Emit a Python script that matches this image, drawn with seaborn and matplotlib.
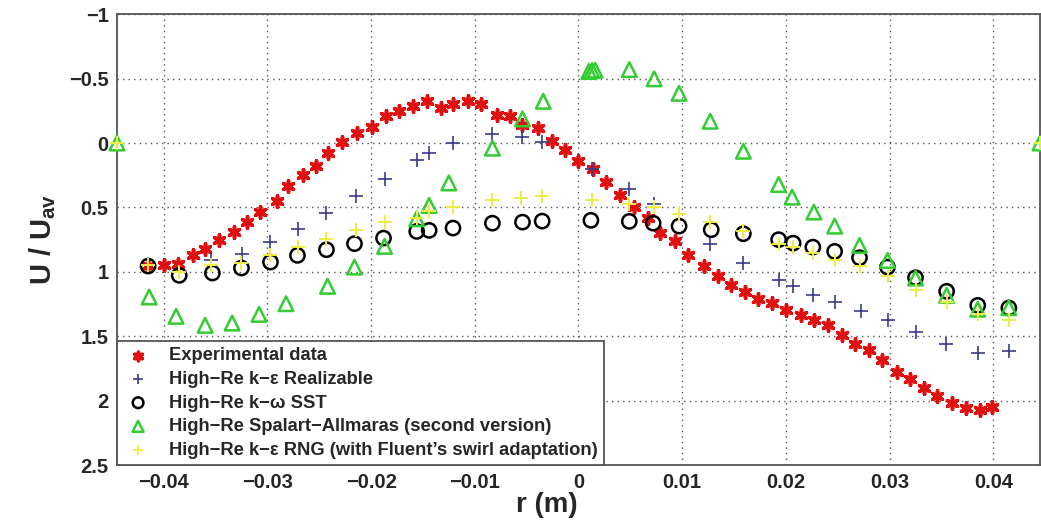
import numpy as np
import pandas as pd
import matplotlib
matplotlib.use("Agg")
import matplotlib.pyplot as plt
import seaborn as sns

# ---------------- data ----------------
exp_r = [-0.0415, -0.0400, -0.0386, -0.0372, -0.0360, -0.0347, -0.0332, -0.0320, -0.0307, -0.0291,
         -0.0280, -0.0266, -0.0253, -0.0242, -0.0228, -0.0214, -0.0199, -0.0186, -0.0173, -0.0160,
         -0.0146, -0.0133, -0.0121, -0.0107, -0.0094, -0.0079, -0.0066, -0.0054, -0.0039, -0.0026,
         -0.0013, 0.0000, 0.0014, 0.0027, 0.0040, 0.0054, 0.0067, 0.0079, 0.0093, 0.0106,
         0.0121, 0.0135, 0.0147, 0.0161, 0.0173, 0.0187, 0.0200, 0.0215, 0.0227, 0.0241,
         0.0254, 0.0267, 0.0280, 0.0293, 0.0307, 0.0320, 0.0333, 0.0346, 0.0360, 0.0374,
         0.0387, 0.0399]
exp_v = [0.955, 0.95, 0.937, 0.872, 0.82, 0.75, 0.69, 0.614, 0.536, 0.453,
         0.337, 0.252, 0.18, 0.076, -0.006, -0.076, -0.122, -0.208, -0.247, -0.29,
         -0.33, -0.273, -0.304, -0.324, -0.304, -0.218, -0.208, -0.143, -0.118, -0.019,
         0.053, 0.141, 0.2, 0.304, 0.4, 0.497, 0.58, 0.70, 0.761, 0.872,
         0.957, 1.035, 1.105, 1.157, 1.21, 1.242, 1.293, 1.337, 1.376, 1.41,
         1.487, 1.557, 1.608, 1.681, 1.78, 1.828, 1.905, 1.965, 2.02, 2.06,
         2.07, 2.05]

rke_r = [-0.0415, -0.0354, -0.0324, -0.0297, -0.0270, -0.0243, -0.0215, -0.0187, -0.0156, -0.0144,
         -0.0121, -0.0083, -0.0054, -0.0035, 0.0013, 0.0049, 0.0073, 0.0127, 0.0159, 0.0193,
         0.0207, 0.0226, 0.0247, 0.0272, 0.0298, 0.0325, 0.0354, 0.0385, 0.0415]
rke_v = [0.95, 0.91, 0.86, 0.77, 0.665, 0.54, 0.415, 0.283, 0.13, 0.079,
         0.0, -0.07, -0.045, -0.006, 0.2, 0.36, 0.477, 0.787, 0.93, 1.066,
         1.112, 1.177, 1.234, 1.304, 1.376, 1.466, 1.557, 1.627, 1.614]

sst_r = [-0.0415, -0.0385, -0.0353, -0.0325, -0.0297, -0.0271, -0.0243, -0.0216, -0.0188, -0.0156,
         -0.0144, -0.0121, -0.0083, -0.0054, -0.0035, 0.0012, 0.0049, 0.0072, 0.0097, 0.0128,
         0.0159, 0.0193, 0.0207, 0.0226, 0.0247, 0.0271, 0.0298, 0.0325, 0.0355, 0.0385, 0.0415]
sst_v = [0.955, 1.027, 1.009, 0.97, 0.924, 0.872, 0.828, 0.781, 0.738, 0.686,
         0.678, 0.66, 0.622, 0.614, 0.606, 0.60, 0.608, 0.622, 0.645, 0.673,
         0.704, 0.75, 0.777, 0.808, 0.841, 0.89, 0.963, 1.045, 1.151, 1.26, 1.28]

sa_r = [-0.0445, -0.0414, -0.0388, -0.0360, -0.0334, -0.0308, -0.0282, -0.0242, -0.0216, -0.0187,
        -0.0156, -0.0144, -0.0125, -0.0083, -0.0054, -0.0034, 0.0010, 0.0013, 0.0016, 0.0049,
        0.0073, 0.0097, 0.0127, 0.0159, 0.0193, 0.0206, 0.0227, 0.0247, 0.0271, 0.0298,
        0.0325, 0.0355, 0.0385, 0.0415, 0.0445]
sa_v = [0.0, 1.195, 1.345, 1.415, 1.397, 1.33, 1.247, 1.112, 0.963, 0.802,
        0.588, 0.484, 0.31, 0.04, -0.187, -0.324, -0.555, -0.562, -0.565, -0.57,
        -0.498, -0.386, -0.169, 0.064, 0.322, 0.42, 0.536, 0.645, 0.795, 0.911,
        1.048, 1.182, 1.29, 1.278, 0.0]

rng_r = [-0.0445, -0.0415, -0.0385, -0.0354, -0.0325, -0.0297, -0.0270, -0.0243, -0.0215, -0.0187,
         -0.0156, -0.0144, -0.0121, -0.0083, -0.0055, -0.0035, 0.0013, 0.0049, 0.0073, 0.0097,
         0.0127, 0.0159, 0.0193, 0.0207, 0.0226, 0.0247, 0.0271, 0.0298, 0.0325, 0.0355,
         0.0385, 0.0415, 0.0445]
rng_v = [0.0, 0.95, 1.0, 0.95, 0.93, 0.872, 0.808, 0.743, 0.678, 0.614,
         0.58, 0.528, 0.497, 0.44, 0.425, 0.415, 0.44, 0.477, 0.50, 0.549,
         0.61, 0.68, 0.78, 0.81, 0.85, 0.911, 0.955, 1.03, 1.143, 1.234,
         1.324, 1.376, 0.0]

labels = ["Experimental data",
          "High\u2212Re k\u2212\u03b5 Realizable",
          "High\u2212Re k\u2212\u03c9 SST",
          "High\u2212Re Spalart\u2212Allmaras (second version)",
          "High\u2212Re k\u2212\u03b5 RNG (with Fluent\u2019s swirl adaptation)"]

x_ticks = [-0.04, -0.03, -0.02, -0.01, 0, 0.01, 0.02, 0.03, 0.04]
x_ticklabels = ["\u22120.04", "\u22120.03", "\u22120.02", "\u22120.01", "0", "0.01", "0.02", "0.03", "0.04"]
y_ticks = [-1, -0.5, 0, 0.5, 1, 1.5, 2, 2.5]
y_ticklabels = ["\u22121", "\u22120.5", "0", "0.5", "1", "1.5", "2", "2.5"]

# ---------------- style ----------------
sns.set_style("white")
plt.rcParams["font.family"] = ["Liberation Sans", "DejaVu Sans"]
plt.rcParams["mathtext.fontset"] = "custom"
plt.rcParams["mathtext.bf"] = "Liberation Sans:bold"
plt.rcParams["mathtext.rm"] = "Liberation Sans:bold"

fig = plt.figure(figsize=(10.41, 5.25), dpi=100)
ax = fig.add_axes([0.1124, 0.114, 0.8866, 0.859])

frames = [
    (exp_r, exp_v, labels[0], dict(marker=(6, 2, 0), s=65, color="#e01010", linewidth=2.6)),
    (rke_r, rke_v, labels[1], dict(marker="+", s=110, color="#3a3a8a", linewidth=1.2)),
    (sst_r, sst_v, labels[2], dict(marker="o", s=105, facecolor="none", edgecolor="black", linewidth=1.8)),
    (sa_r, sa_v, labels[3], dict(marker="^", s=110, facecolor="none", edgecolor="#33cc33", linewidth=1.8)),
    (rng_r, rng_v, labels[4], dict(marker="+", s=110, color="#eeee44", linewidth=1.4)),
]
order = [4, 1, 2, 3, 0]
for i in order:
    r, v, lab, kw = frames[i]
    df = pd.DataFrame({"r": r, "v": v})
    sns.scatterplot(data=df, x="r", y="v", ax=ax, label=lab, zorder=3 + i, clip_on=False, **kw)

ax.set_xlim(-0.0445, 0.0445)
ax.set_ylim(2.5, -1)
ax.set_xticks(x_ticks)
ax.set_xticklabels(x_ticklabels, fontsize=14.5, fontweight="bold")
ax.set_yticks(y_ticks)
ax.set_yticklabels(y_ticklabels, fontsize=14.5, fontweight="bold")
ax.tick_params(direction="in", length=5, color="#555555", pad=6)
ax.grid(True, linestyle=(0, (1, 3)), color="#555555", linewidth=1.0)
for sp in ax.spines.values():
    sp.set_color("#555555")
    sp.set_linewidth(1.3)

ax.set_xlabel("r (m)", fontsize=20, fontweight="bold", labelpad=0)
ax.xaxis.set_label_coords(0.466, -0.06)
ax.set_ylabel(r"U / U$_{\mathbf{av}}$", fontsize=21, fontweight="bold", labelpad=8)

h, l = ax.get_legend_handles_labels()
lab2h = dict(zip(l, h))
leg = ax.legend([lab2h[x] for x in labels], labels, loc="lower left", borderaxespad=0,
                fancybox=False, framealpha=1, edgecolor="#555555",
                prop={"weight": "bold", "size": 13.2}, labelspacing=0.36,
                handlelength=1.6, handletextpad=0.9, borderpad=0.35, markerscale=0.75)
leg.get_frame().set_linewidth(1.3)
leg.set_zorder(20)

fig.savefig("out.png", dpi=100)
